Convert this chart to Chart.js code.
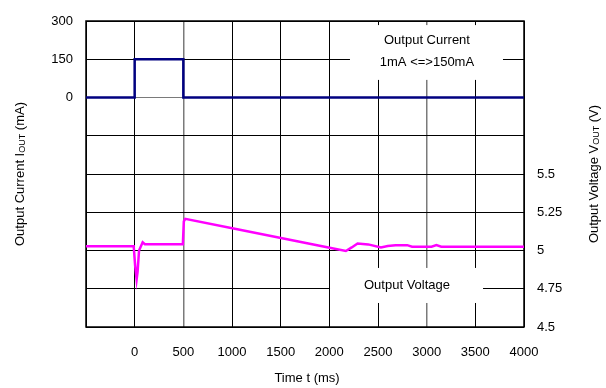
<!DOCTYPE html>
<html>
<head>
<meta charset="utf-8">
<script src="https://cdn.jsdelivr.net/npm/chart.js@4.4.0/dist/chart.umd.min.js"></script>
<style>
html,body{margin:0;padding:0;background:#fff;}
#wrap{width:606px;height:388px;}
</style>
</head>
<body>
<div id="wrap"><canvas id="c" width="606" height="388"></canvas></div>
<script>
// Output current (mA) vs time (ms)
const currentTime = [-500, 0, 0, 500, 500, 4000];
const currentValues = [0, 0, 150, 150, 0, 0];
// Output voltage (V) vs time (ms)
const voltageTime = [-500, -10, 5, 20, 30, 45, 82, 105, 495, 505, 520, 1080, 1990, 2170, 2230, 2290, 2400, 2530, 2600, 2680, 2800, 2850, 3050, 3100, 3150, 4000];
const voltageValues = [5.028, 5.028, 4.9, 4.81, 4.86, 5.0, 5.054, 5.041, 5.041, 5.19, 5.207, 5.136, 5.02, 4.997, 5.02, 5.046, 5.04, 5.02, 5.03, 5.035, 5.035, 5.025, 5.025, 5.035, 5.025, 5.025];
const timeTicks = [0, 500, 1000, 1500, 2000, 2500, 3000, 3500, 4000];
const currentTickLabels = [0, 150, 300];
const voltageTickLabels = [4.5, 4.75, 5, 5.25, 5.5];

const FONT = 'Liberation Sans, Arial, sans-serif';

const overlay = {
  id: 'overlay',
  beforeDatasetsDraw(chart) {
    const {ctx, chartArea: a, scales} = chart;
    const x = scales.x, y = scales.y, y1 = scales.y1;
    ctx.save();
    ctx.fillStyle = '#fff';
    // Output Current label box
    const bx1 = x.getPixelForValue(2212), bx2 = x.getPixelForValue(3784);
    const by1 = y.getPixelForValue(284), by2 = y.getPixelForValue(69);
    ctx.fillRect(bx1, by1, bx2 - bx1, by2 - by1);
    // Output Voltage label box
    const cx1 = x.getPixelForValue(2007), cx2 = x.getPixelForValue(3579);
    const cy1 = y1.getPixelForValue(4.886), cy2 = y1.getPixelForValue(4.657);
    ctx.fillRect(cx1, cy1, cx2 - cx1, cy2 - cy1);
    ctx.fillStyle = '#000';
    ctx.font = '13px ' + FONT;
    ctx.textAlign = 'center';
    ctx.textBaseline = 'middle';
    ctx.fillText('Output Current', x.getPixelForValue(3003), y.getPixelForValue(225));
    ctx.fillText('1mA <=>150mA', x.getPixelForValue(3003), y.getPixelForValue(139));
    ctx.fillText('Output Voltage', x.getPixelForValue(2798), y1.getPixelForValue(4.775));
    // border
    ctx.strokeStyle = '#000';
    ctx.lineWidth = 1.5;
    ctx.strokeRect(a.left, a.top, a.right - a.left, a.bottom - a.top);
    ctx.restore();
  },
  afterDraw(chart) {
    const {ctx, chartArea: a} = chart;
    ctx.save();
    ctx.fillStyle = '#000';
    const big = '13px ' + FONT, small = '9px ' + FONT;
    const midY = (a.top + a.bottom) / 2;
    function vtitle(cx, parts) {
      ctx.save();
      ctx.translate(cx, midY);
      ctx.rotate(-Math.PI / 2);
      let total = 0;
      parts.forEach(p => { ctx.font = p.sub ? small : big; total += ctx.measureText(p.t).width; });
      let px = -total / 2;
      ctx.textBaseline = 'middle';
      ctx.textAlign = 'left';
      parts.forEach(p => {
        ctx.font = p.sub ? small : big;
        ctx.fillText(p.t, px, p.sub ? 3 : 0);
        px += ctx.measureText(p.t).width;
      });
      ctx.restore();
    }
    vtitle(20, [{t:'Output Current I'},{t:'OUT',sub:true},{t:' (mA)'}]);
    vtitle(594, [{t:'Output Voltage V'},{t:'OUT',sub:true},{t:' (V)'}]);
    ctx.font = big;
    ctx.textAlign = 'center';
    ctx.textBaseline = 'middle';
    ctx.fillText('Time t (ms)', (a.left + a.right) / 2 + 2, 378);
    ctx.restore();
  }
};

new Chart(document.getElementById('c'), {
  type: 'line',
  data: {
    datasets: [
      {
        label: 'Output Current',
        data: currentTime.map((t, i) => ({x: t, y: currentValues[i]})),
        borderColor: '#000080',
        borderWidth: 2.5,
        pointRadius: 0,
        tension: 0,
        yAxisID: 'y'
      },
      {
        label: 'Output Voltage',
        data: voltageTime.map((t, i) => ({x: t, y: voltageValues[i]})),
        borderColor: '#ff00ff',
        borderWidth: 2.5,
        pointRadius: 0,
        tension: 0,
        yAxisID: 'y1'
      }
    ]
  },
  options: {
    responsive: false,
    animation: false,
    layout: {padding: {top: 21, right: 0, left: 0, bottom: 0}},
    plugins: {legend: {display: false}, tooltip: {enabled: false}},
    scales: {
      x: {
        type: 'linear',
        min: -500, max: 4000,
        afterBuildTicks: s => { s.ticks = [-500].concat(timeTicks).map(v => ({value: v})); },
        afterFit: s => { s.height = 61; },
        ticks: {
          color: '#000', font: {family: FONT, size: 13}, padding: 18, maxRotation: 0,
          callback: v => (timeTicks.includes(v) ? String(v) : '')
        },
        grid: {
          drawTicks: false,
          color: c => (c.tick && (c.tick.value === 500 || c.tick.value === 3000)) ? '#7a7a7a' : '#000',
          lineWidth: c => (c.tick && (c.tick.value === 500 || c.tick.value === 3000)) ? 1.5 : 1
        },
        border: {display: false}
      },
      y: {
        position: 'left',
        min: -900, max: 300,
        afterBuildTicks: s => { const t = []; for (let v = -900; v <= 300; v += 150) t.push({value: v}); s.ticks = t; },
        afterFit: s => { s.width = 86; },
        ticks: {
          color: '#000', font: {family: FONT, size: 13}, padding: 13,
          callback: v => (currentTickLabels.includes(v) ? String(v) : '')
        },
        grid: {drawTicks: false, color: c => (c.tick && c.tick.value === 0) ? '#7a7a7a' : '#000', lineWidth: 1},
        border: {display: false}
      },
      y1: {
        position: 'right',
        min: 4.5, max: 6.5,
        afterBuildTicks: s => { const t = []; for (let i = 0; i <= 8; i++) t.push({value: 4.5 + i * 0.25}); s.ticks = t; },
        afterFit: s => { s.width = 82; },
        ticks: {
          color: '#000', font: {family: FONT, size: 13}, padding: 13,
          callback: v => (voltageTickLabels.some(l => Math.abs(l - v) < 1e-9) ? String(Math.round(v * 100) / 100) : '')
        },
        grid: {drawOnChartArea: false, drawTicks: false},
        border: {display: false}
      }
    }
  },
  plugins: [overlay]
});
</script>
</body>
</html>
